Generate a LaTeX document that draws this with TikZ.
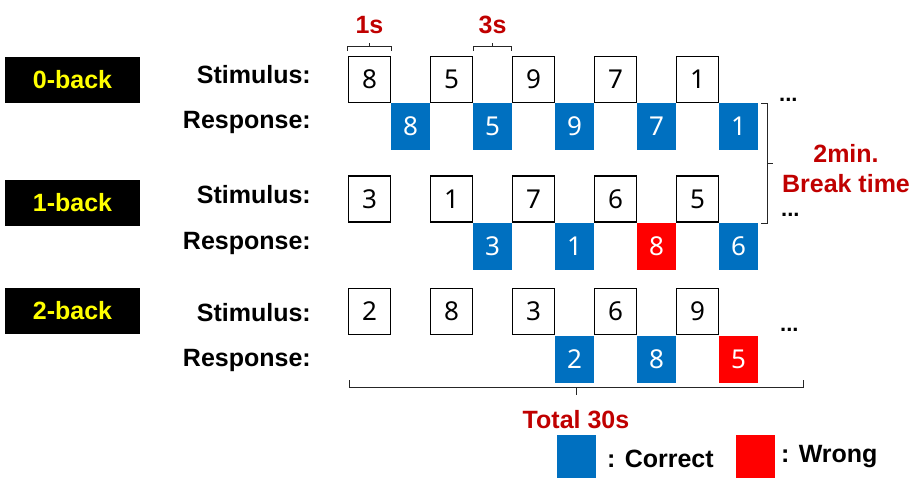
\documentclass[tikz,border=0pt]{standalone}
\usepackage{fontspec}
\setmainfont{Liberation Sans}
\newfontfamily\digitfont{Noto Sans}
\usetikzlibrary{calc}
\definecolor{cblue}{HTML}{0070C0}
\definecolor{cred}{HTML}{FF0000}
\definecolor{cdarkred}{HTML}{C00000}
\definecolor{cyellow}{HTML}{FFFF00}
\begin{document}
\begin{tikzpicture}[x=1pt,y=-1pt,
  lbl/.style={font=\fontsize{25}{30}\selectfont\bfseries, inner sep=0pt},
  nback/.style={lbl, fill=black, text=cyellow, minimum width=135pt, minimum height=46pt},
  digit/.style={font=\digitfont\fontsize{26}{30}\selectfont, inner sep=0pt},
  stim/.style={digit, draw=black, line width=1.6pt, minimum width=42pt, minimum height=46pt},
  resp/.style={digit, fill=cblue, text=white, minimum width=39pt, minimum height=47pt},
  wrong/.style={resp, fill=cred},
  redtxt/.style={lbl, text=cdarkred},
  bracepath/.style={line width=0.9pt, black!85},
  dots/.style={font=\fontsize{22}{26}\selectfont\bfseries, inner sep=0pt}]
\useasboundingbox (0,0) rectangle (911,479);

% N-back labels
\node[nback] (n0) at (72.5,80) {0-back};
\node[nback] (n1) at (72.5,202.5) {1-back};
\node[nback] (n2) at (72.5,311) {2-back};

% row labels
\node[lbl, anchor=base east] (ls0) at (311,83) {Stimulus:};
\node[lbl, anchor=base east] (lr0) at (311,128) {Response:};
\node[lbl, anchor=base east] (ls1) at (311,203) {Stimulus:};
\node[lbl, anchor=base east] (lr1) at (311,249) {Response:};
\node[lbl, anchor=base east] (ls2) at (311,321) {Stimulus:};
\node[lbl, anchor=base east] (lr2) at (311,366) {Response:};

% 0-back
\foreach \d [count=\k from 0] in {8,5,9,7,1}
  \node[stim] (s0\k) at (369.5+82*\k,79.5) {\d};
\foreach \d [count=\k from 0] in {8,5,9,7,1}
  \node[resp] (r0\k) at (410.5+82*\k,126.5) {\d};

% 1-back
\foreach \d [count=\k from 0] in {3,1,7,6,5}
  \node[stim] (s1\k) at (369.5+82*\k,199) {\d};
\node[resp]  (r11) at (492.5,246) {3};
\node[resp]  (r12) at (574.5,246) {1};
\node[wrong] (r13) at (656.5,246) {8};
\node[resp]  (r14) at (738.5,246) {6};

% 2-back
\foreach \d [count=\k from 0] in {2,8,3,6,9}
  \node[stim] (s2\k) at (369.5+82*\k,311.5) {\d};
\node[resp]  (r22) at (574.5,359.5) {2};
\node[resp]  (r23) at (656.5,359.5) {8};
\node[wrong] (r24) at (738.5,359.5) {5};

% dots
\node[dots, anchor=base west] (d0) at (779,101) {...};
\node[dots, anchor=base west] (d1) at (781,216) {...};
\node[dots, anchor=base west] (d2) at (780,331) {...};

% 1s bracket
\coordinate (a1) at ($(s00.north west)+(0,-5)$);
\coordinate (a2) at ($(s00.north east)+(0,-5)$);
\draw[bracepath] (a1) -- ++(0,-4) -| (a2);
\draw[bracepath] ($(a1)!0.5!(a2)+(0,-4)$) -- ++(0,-4);
\node[redtxt, anchor=base] (t1) at ($(a1)!0.5!(a2)+(0,-17)$) {1s};

% 3s bracket
\coordinate (b1) at ($(s01.north east)+(0,-5)$);
\coordinate (b2) at ($(s02.north west)+(0,-5)$);
\draw[bracepath] (b1) -- ++(0,-4) -| (b2);
\draw[bracepath] ($(b1)!0.5!(b2)+(0,-4)$) -- ++(0,-4);
\node[redtxt, anchor=base] (t3) at ($(b1)!0.5!(b2)+(0,-17)$) {3s};

% right brace
\coordinate (c1) at (761,103);
\coordinate (c2) at (761,223);
\draw[bracepath] (c1) -- (767,103) -- (767,223) -- (c2);
\draw[bracepath] (767,163) -- (773,163);
\node[redtxt, anchor=base] (bt1) at (846,162) {2min.};
\node[redtxt, anchor=base] (bt2) at (846,192) {Break time};

% bottom brace
\coordinate (e1) at (349,380);
\coordinate (e2) at (803,380);
\draw[bracepath] (e1) -- (349,387) -- (803,387) -- (e2);
\draw[bracepath] (576,387) -- (576,395);
\node[redtxt, anchor=base] (tot) at (576,428) {Total 30s};

% legend
\node[fill=cblue, minimum width=39pt, minimum height=43pt, inner sep=0pt] (lgb) at (576.5,456.5) {};
\node[lbl, anchor=base west] (lgbt) at (607,467) {: Correct};
\node[fill=cred, minimum width=39pt, minimum height=43pt, inner sep=0pt] (lgr) at (755.5,456.5) {};
\node[lbl, anchor=base west] (lgrt) at (781,462) {: Wrong};
\end{tikzpicture}
\end{document}
